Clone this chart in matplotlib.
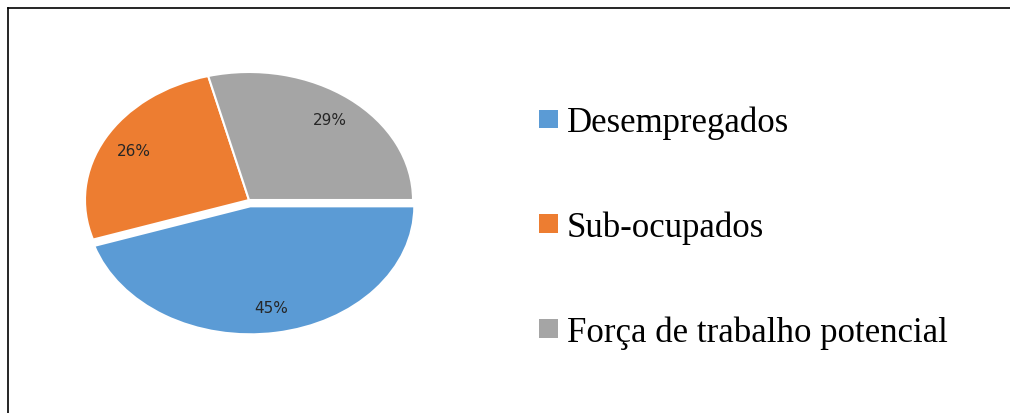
import matplotlib
matplotlib.use("Agg")
import matplotlib.pyplot as plt
from matplotlib.lines import Line2D
from matplotlib.patches import Patch

categories = ["Desempregados", "Sub-ocupados", "Força de trabalho potencial"]
values = [45, 26, 29]
colors = ["#5B9BD5", "#ED7D31", "#A5A5A5"]
explode = [0.05, 0, 0]

W, H = 1010, 414
fig = plt.figure(figsize=(W / 100, H / 100), dpi=100)

# axes so that radius 1 -> 164 px horizontally, 128 px vertically, center at (249, 201)
cx, cy = 249, 201
rx, ry = 164, 128
span = 1.5
ax = fig.add_axes([(cx - span * rx) / W, (H - cy - span * ry) / H,
                   2 * span * rx / W, 2 * span * ry / H])
wedges, texts, autotexts = ax.pie(
    values, colors=colors, explode=explode, startangle=0, counterclock=False,
    autopct="%1.0f%%", pctdistance=0.8,
    wedgeprops=dict(edgecolor="white", linewidth=1.5),
    textprops=dict(color="#262626", fontsize=11, family="DejaVu Sans"),
)
ax.set_aspect("auto")
ax.set_xlim(-span, span)
ax.set_ylim(-span, span)
ax.axis("off")

handles = [Patch(facecolor=c, edgecolor="none") for c in colors]
fig.legend(handles, categories, loc="upper left",
           bbox_to_anchor=(539 / W, (H - 107) / H), bbox_transform=fig.transFigure,
           frameon=False, prop=dict(family="Liberation Serif", size=25),
           handlelength=0.55, handleheight=0.45, handletextpad=0.25,
           labelspacing=2.05, borderpad=0, borderaxespad=0)

# frame lines (top and left)
fig.add_artist(Line2D([8 / W, 1.0], [(H - 9) / H, (H - 9) / H], color="black",
                      linewidth=1.2, transform=fig.transFigure))
fig.add_artist(Line2D([8 / W, 8 / W], [(H - 9) / H, 0.0], color="black",
                      linewidth=1.2, transform=fig.transFigure))

fig.savefig("out.png", dpi=100)
